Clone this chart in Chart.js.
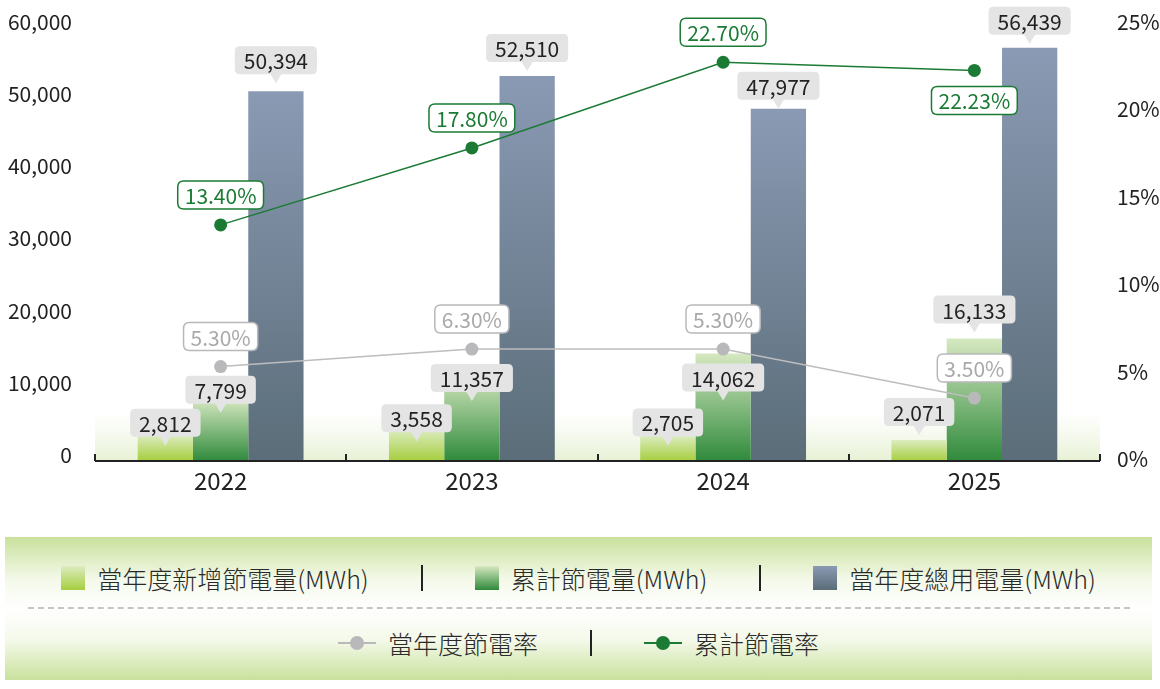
<!DOCTYPE html>
<html>
<head>
<meta charset="utf-8">
<script src="https://cdn.jsdelivr.net/npm/chart.js@4.4.1/dist/chart.umd.min.js"></script>
<style>
  body { margin: 0; background: #fff; font-family: "Noto Sans CJK TC", "Noto Sans", sans-serif; }
  #wrap { position: relative; width: 1160px; height: 689px; }
  #chartBox { position: absolute; left: 0; top: 0; width: 1160px; height: 500px; }
  #legend {
    position: absolute; left: 5px; top: 537px; width: 1147px; height: 143px;
    background: linear-gradient(to bottom, #c9e19c 0%, #f4f9ea 30%, #ffffff 50%, #f4f9ea 72%, #c9e19c 100%);
    color: #2a2a2a; font-size: 25px; font-weight: 300;
  }
  .row { position: absolute; left: 0; width: 100%; display: flex; justify-content: center; align-items: center; }
  .row1 { top: 25px; height: 32px; }
  .row2 { top: 90px; height: 32px; }
  .item { display: flex; align-items: center; }
  .sq { width: 24px; height: 24px; margin-right: 12px; }
  .sep { width: 2px; height: 26px; background: #222; margin: 0 52px; }
  .mk { position: relative; width: 38px; height: 14px; margin-right: 12px; }
  .mk::before { content: ""; position: absolute; left: 0; right: 0; top: 6px; height: 2px; background: var(--c); }
  .mk::after { content: ""; position: absolute; left: 12px; top: 0; width: 14px; height: 14px; border-radius: 50%; background: var(--c); }
  #dash { position: absolute; left: 23px; right: 22px; top: 70px; border-top: 2px dashed #c4c4c4; }
</style>
</head>
<body>
<div id="wrap">
  <div id="chartBox"><canvas id="savingChart"></canvas></div>
  <div id="legend">
    <div class="row row1">
      <div class="item"><div class="sq" style="background:linear-gradient(#dcecc0,#a6ce3e)"></div>當年度新增節電量(MWh)</div>
      <div class="sep"></div>
      <div class="item"><div class="sq" style="background:linear-gradient(#d6e8c0,#2f8a3c)"></div>累計節電量(MWh)</div>
      <div class="sep"></div>
      <div class="item"><div class="sq" style="background:linear-gradient(#8a9ab4,#5a6d78)"></div>當年度總用電量(MWh)</div>
    </div>
    <div id="dash"></div>
    <div class="row row2">
      <div class="item"><div class="mk" style="--c:#b9b9bc"></div>當年度節電率</div>
      <div class="sep"></div>
      <div class="item"><div class="mk" style="--c:#1b7b34"></div>累計節電率</div>
    </div>
  </div>
</div>
<script>
const years = ["2022", "2023", "2024", "2025"];
const newSaving = [2812, 3558, 2705, 2071];       // 當年度新增節電量
const cumSaving = [7799, 11357, 14062, 16133];    // 累計節電量
const totalUse = [50394, 52510, 47977, 56439];    // 當年度總用電量
// 當年度節電率: points as plotted in the picture (2024 sits level with 2023), labels as printed
const yearRate = [5.30, 6.30, 6.30, 3.50];
const yearRateText = ["5.30%", "6.30%", "5.30%", "3.50%"];
const cumRate = [13.40, 17.80, 22.70, 22.23];     // 累計節電率
const cumRateText = ["13.40%", "17.80%", "22.70%", "22.23%"];
const leftTicks = [0, 10000, 20000, 30000, 40000, 50000, 60000];
const rightTicks = [0, 5, 10, 15, 20, 25];

// axis runs a little below zero, like the original
const yMin = -830;
const yMax = 60000;
const y2Min = -0.1;

// label box shift (px from bar top / point) per dataset
const barLabelShift = [[-12, -11, -13, -28], [-9, 5, 24, -29], [-31, -28, -23, -27]];
const lineLabelShift = [[-30, -30, -30, -30], [-30, -30, -30, 30]];

const FONT = '"Noto Sans CJK TC", "Noto Sans", sans-serif';

function barGradient(top, bottom) {
    return function (ctx) {
        const chart = ctx.chart;
        if (!chart.chartArea || ctx.raw === undefined) return bottom;
        const y = chart.scales.y;
        const y0 = y.getPixelForValue(ctx.raw);
        const y1 = y.getPixelForValue(yMin);
        const g = chart.ctx.createLinearGradient(0, y0, 0, y1);
        g.addColorStop(0, top);
        g.addColorStop(1, bottom);
        return g;
    };
}

function roundRect(c, x, y, w, h, r) {
    c.beginPath();
    c.moveTo(x + r, y);
    c.lineTo(x + w - r, y);
    c.quadraticCurveTo(x + w, y, x + w, y + r);
    c.lineTo(x + w, y + h - r);
    c.quadraticCurveTo(x + w, y + h, x + w - r, y + h);
    c.lineTo(x + r, y + h);
    c.quadraticCurveTo(x, y + h, x, y + h - r);
    c.lineTo(x, y + r);
    c.quadraticCurveTo(x, y, x + r, y);
    c.closePath();
}

// soft green band at the bottom + axis ticks pointing up
const backdrop = {
    id: "backdrop",
    beforeDatasetsDraw(chart) {
        const { ctx, chartArea } = chart;
        const g = ctx.createLinearGradient(0, chartArea.bottom - 48, 0, chartArea.bottom);
        g.addColorStop(0, "rgba(236,244,222,0)");
        g.addColorStop(1, "rgba(230,241,212,1)");
        ctx.save();
        ctx.fillStyle = g;
        ctx.fillRect(chartArea.left, chartArea.bottom - 48, chartArea.right - chartArea.left, 48);
        ctx.restore();
    },
    afterDatasetsDraw(chart) {
        const { ctx, chartArea } = chart;
        ctx.save();
        ctx.strokeStyle = "#222";
        ctx.lineWidth = 2;
        const step = (chartArea.right - chartArea.left) / years.length;
        for (let i = 0; i <= years.length; i++) {
            const x = Math.round(chartArea.left + i * step);
            ctx.beginPath();
            ctx.moveTo(x, chartArea.bottom);
            ctx.lineTo(x, chartArea.bottom - 7);
            ctx.stroke();
        }
        ctx.beginPath();
        ctx.moveTo(chartArea.left, chartArea.bottom);
        ctx.lineTo(chartArea.right, chartArea.bottom);
        ctx.stroke();
        ctx.restore();
    }
};

const valueLabels = {
    id: "valueLabels",
    afterDraw(chart) {
        const ctx = chart.ctx;
        ctx.save();
        ctx.font = "21px " + FONT;
        ctx.textAlign = "center";
        ctx.textBaseline = "middle";
        // bar labels: grey boxes with a pointer
        for (let d = 0; d < 3; d++) {
            const meta = chart.getDatasetMeta(d);
            meta.data.forEach((bar, i) => {
                const text = chart.data.datasets[d].data[i].toLocaleString("en-US");
                const w = ctx.measureText(text).width + 18;
                const h = 28;
                const cy = bar.y + barLabelShift[d][i];
                ctx.fillStyle = "#e4e4e4";
                roundRect(ctx, bar.x - w / 2, cy - h / 2, w, h, 5);
                ctx.fill();
                ctx.beginPath();
                ctx.moveTo(bar.x - 6, cy + h / 2 - 1);
                ctx.lineTo(bar.x + 6, cy + h / 2 - 1);
                ctx.lineTo(bar.x, cy + h / 2 + 9);
                ctx.closePath();
                ctx.fill();
                ctx.fillStyle = "#222";
                ctx.fillText(text, bar.x, cy + 1);
            });
        }
        // line labels: white boxes with coloured border
        const lineStyle = [["#b8b8bb", "#a9a9ab"], ["#1b7b34", "#1b7b34"]];
        const lineText = [yearRateText, cumRateText];
        for (let k = 0; k < 2; k++) {
            const meta = chart.getDatasetMeta(3 + k);
            meta.data.forEach((pt, i) => {
                const text = lineText[k][i];
                const w = ctx.measureText(text).width + 14;
                const h = 28;
                const cy = pt.y + lineLabelShift[k][i];
                ctx.fillStyle = "#fff";
                ctx.strokeStyle = lineStyle[k][0];
                ctx.lineWidth = 1.5;
                roundRect(ctx, pt.x - w / 2, cy - h / 2, w, h, 6);
                ctx.fill();
                ctx.stroke();
                ctx.fillStyle = lineStyle[k][1];
                ctx.fillText(text, pt.x, cy + 1);
            });
        }
        ctx.restore();
    }
};

function fixSide(width) {
    return function (scale) {
        scale.width = width;
        scale.paddingTop = 0;
        scale.paddingBottom = 0;
    };
}

const chart = new Chart(document.getElementById("savingChart").getContext("2d"), {
    type: "bar",
    data: {
        labels: years,
        datasets: [
            { label: "當年度新增節電量(MWh)", data: newSaving, backgroundColor: barGradient("#dcecc0", "#a6ce3e"), base: yMin, order: 2 },
            { label: "累計節電量(MWh)", data: cumSaving, backgroundColor: barGradient("#d6e8c0", "#2f8a3c"), base: yMin, order: 2 },
            { label: "當年度總用電量(MWh)", data: totalUse, backgroundColor: barGradient("#8a9ab4", "#5a6d78"), base: yMin, order: 2 },
            {
                type: "line", label: "當年度節電率", data: yearRate, yAxisID: "y2",
                borderColor: "#bdbdbf", borderWidth: 1.5, pointRadius: 6.5,
                pointBackgroundColor: "#b9b9bc", pointBorderWidth: 0, order: 1
            },
            {
                type: "line", label: "累計節電率", data: cumRate, yAxisID: "y2",
                borderColor: "#1b7b34", borderWidth: 1.5, pointRadius: 6.5,
                pointBackgroundColor: "#1b7b34", pointBorderWidth: 0, order: 0
            }
        ]
    },
    options: {
        responsive: true,
        maintainAspectRatio: false,
        animation: false,
        layout: { padding: { top: 22, left: 0, right: 0, bottom: 0 } },
        datasets: { bar: { categoryPercentage: 0.66, barPercentage: 1 } },
        plugins: {
            legend: { display: false },
            tooltip: { enabled: false }
        },
        scales: {
            x: {
                grid: { display: false },
                border: { display: false },
                ticks: { color: "#222", font: { family: FONT, size: 24 }, padding: -3 },
                afterFit(scale) { scale.height = 39; }
            },
            y: {
                position: "left",
                min: yMin, max: yMax,
                grid: { display: false, drawTicks: false },
                border: { display: false },
                afterBuildTicks(scale) { scale.ticks = leftTicks.map(v => ({ value: v })); },
                ticks: {
                    color: "#222", font: { family: FONT, size: 21 }, padding: 23,
                    callback: v => v.toLocaleString("en-US")
                },
                afterFit: fixSide(95)
            },
            y2: {
                position: "right",
                min: y2Min, max: 25,
                grid: { display: false, drawTicks: false },
                border: { display: false },
                afterBuildTicks(scale) { scale.ticks = rightTicks.map(v => ({ value: v })); },
                ticks: {
                    color: "#222", font: { family: FONT, size: 21 }, padding: 17,
                    callback: v => v + "%"
                },
                afterFit: fixSide(60)
            }
        }
    },
    plugins: [backdrop, valueLabels]
});
</script>
</body>
</html>
